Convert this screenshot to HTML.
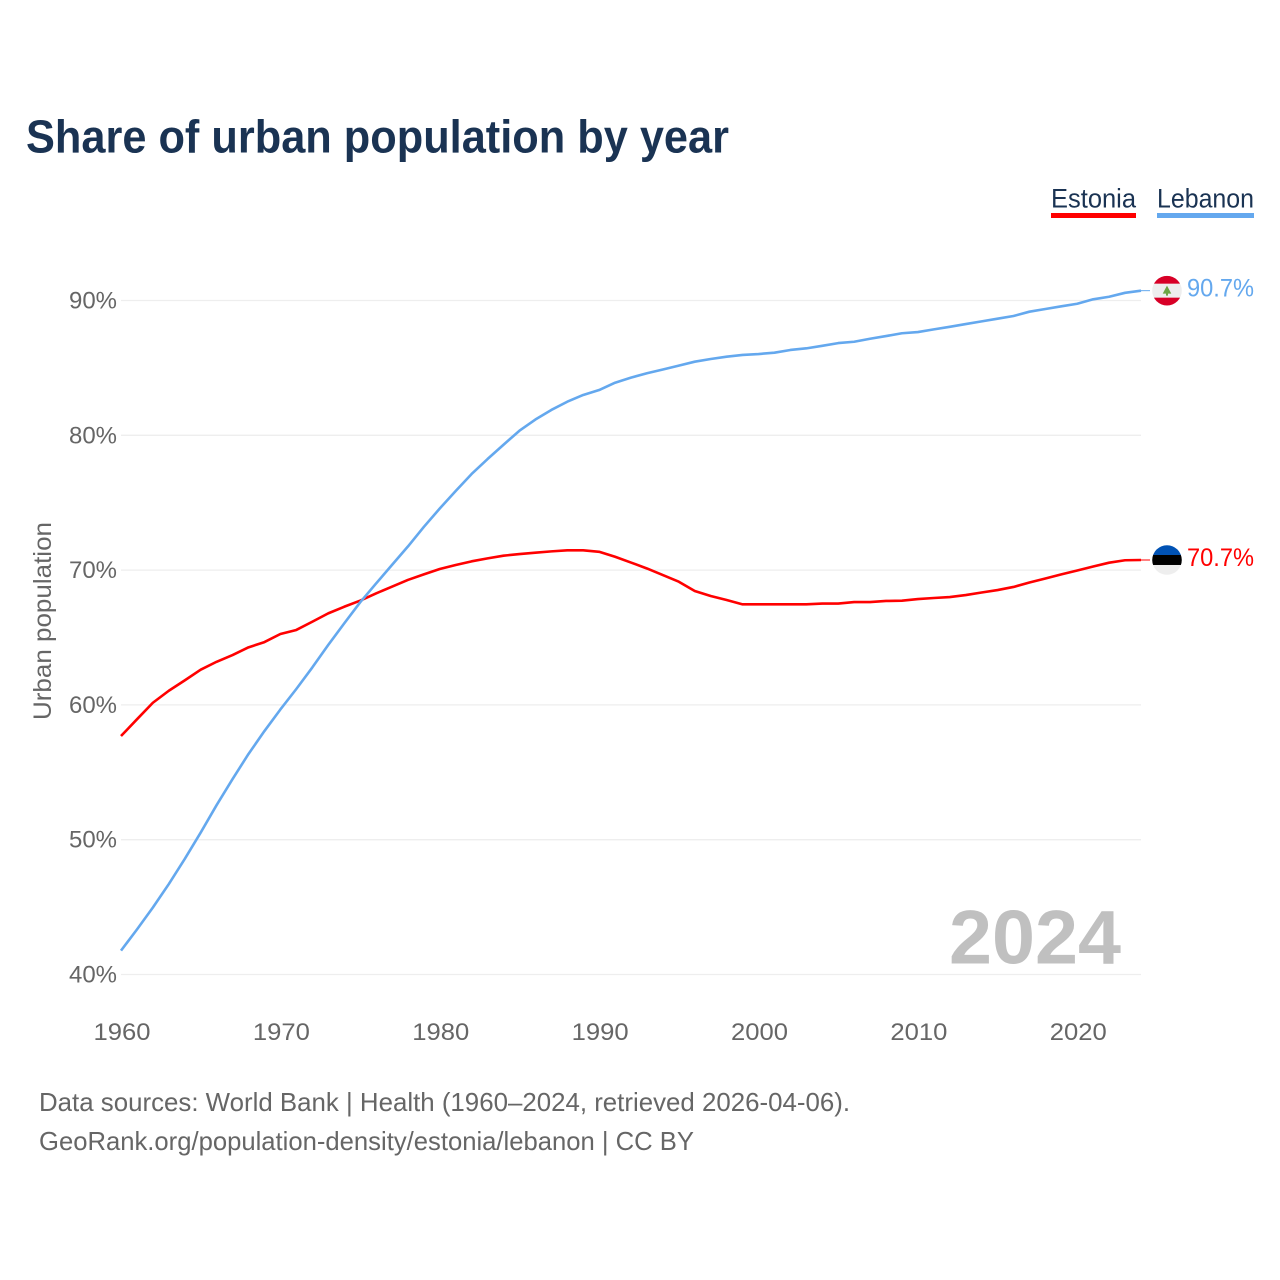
<!DOCTYPE html>
<html lang="en">
<head>
<meta charset="utf-8">
<title>Share of urban population by year</title>
<style>
html,body{margin:0;padding:0;background:#fff;}
svg{display:block;font-family:"Liberation Sans",sans-serif;}
</style>
</head>
<body>
<svg id="chart" xmlns="http://www.w3.org/2000/svg" width="1280" height="1280" viewBox="0 0 1280 1280">
  <defs>
    <clipPath id="flag-clip"><circle cx="0" cy="0" r="14.8"/></clipPath>
  </defs>
  <rect x="0" y="0" width="1280" height="1280" fill="#ffffff"/>
  <text x="26" y="152.5" font-size="46" font-weight="700" fill="#1a3353" textLength="703" lengthAdjust="spacingAndGlyphs">Share of urban population by year</text>

  <text x="1051" y="207.5" font-size="27" fill="#1a3353" textLength="85" lengthAdjust="spacingAndGlyphs">Estonia</text>
  <rect x="1051" y="213" width="85" height="5" fill="#ff0000"/>
  <text x="1157" y="207.5" font-size="27" fill="#1a3353" textLength="97" lengthAdjust="spacingAndGlyphs">Lebanon</text>
  <rect x="1157" y="213" width="97" height="5" fill="#64a8ee"/>

  <g id="grid"></g>
  <g id="y-ticks"></g>
  <g id="x-ticks"></g>
  <text transform="translate(51,621) rotate(-90)" text-anchor="middle" font-size="25" fill="#666666" textLength="198" lengthAdjust="spacingAndGlyphs">Urban population</text>
  <text x="1121" y="963.5" text-anchor="end" font-size="76" font-weight="700" fill="#c0c0c0" textLength="172" lengthAdjust="spacingAndGlyphs">2024</text>

  <g id="series"></g>

  <g id="flag-lebanon">
    <g clip-path="url(#flag-clip)">
      <rect x="-15" y="-15" width="30" height="30" fill="#eeeeee"/>
      <rect x="-15" y="-15" width="30" height="8" fill="#d80027"/>
      <rect x="-15" y="7" width="30" height="8" fill="#d80027"/>
      <path d="M0,-5 L4.3,3 L1,3 L1,5 L-1,5 L-1,3 L-4.3,3 Z" fill="#6da544"/>
    </g>
  </g>
  <g id="flag-estonia">
    <g clip-path="url(#flag-clip)">
      <rect x="-15" y="-15" width="30" height="10" fill="#0052b4"/>
      <rect x="-15" y="-5" width="30" height="10" fill="#000000"/>
      <rect x="-15" y="5" width="30" height="10" fill="#eeeeee"/>
    </g>
  </g>
  <g id="end-labels"></g>

  <text x="39" y="1111" font-size="26" fill="#666666" textLength="811" lengthAdjust="spacingAndGlyphs">Data sources: World Bank | Health (1960–2024, retrieved 2026-04-06).</text>
  <text x="39" y="1150" font-size="26" fill="#666666" textLength="655" lengthAdjust="spacingAndGlyphs">GeoRank.org/population-density/estonia/lebanon | CC BY</text>
</svg>
<script>
var years = [1960,1961,1962,1963,1964,1965,1966,1967,1968,1969,1970,1971,1972,1973,1974,1975,1976,1977,1978,1979,1980,1981,1982,1983,1984,1985,1986,1987,1988,1989,1990,1991,1992,1993,1994,1995,1996,1997,1998,1999,2000,2001,2002,2003,2004,2005,2006,2007,2008,2009,2010,2011,2012,2013,2014,2015,2016,2017,2018,2019,2020,2021,2022,2023,2024];
var estonia = [57.69,58.93,60.16,61.05,61.82,62.61,63.20,63.70,64.27,64.66,65.26,65.56,66.17,66.79,67.28,67.73,68.27,68.77,69.27,69.68,70.08,70.38,70.65,70.87,71.07,71.19,71.29,71.39,71.47,71.47,71.36,70.99,70.56,70.12,69.63,69.14,68.45,68.08,67.78,67.46,67.46,67.46,67.46,67.46,67.52,67.52,67.63,67.63,67.71,67.73,67.85,67.93,68.00,68.15,68.34,68.52,68.75,69.08,69.38,69.68,69.97,70.27,70.55,70.73,70.75];
var lebanon = [41.77,43.34,44.97,46.71,48.57,50.53,52.57,54.50,56.36,58.06,59.66,61.18,62.77,64.44,66.04,67.60,69.00,70.38,71.75,73.20,74.57,75.87,77.13,78.24,79.30,80.34,81.17,81.88,82.49,82.99,83.36,83.90,84.28,84.60,84.88,85.17,85.46,85.66,85.83,85.96,86.03,86.13,86.33,86.45,86.64,86.84,86.94,87.16,87.36,87.57,87.66,87.86,88.05,88.25,88.45,88.65,88.85,89.17,89.37,89.57,89.76,90.09,90.28,90.57,90.73];
var yTicks = [40,50,60,70,80,90];
var xTicks = [1960,1970,1980,1990,2000,2010,2020];
var estoniaEndLabel = "70.7%";
var lebanonEndLabel = "90.7%";

var NS = "http://www.w3.org/2000/svg";
var X0 = 121, X1 = 1141, YEAR0 = 1960, YEAR1 = 2024;
var Y40 = 974.5, Y90 = 300.5, V0 = 40, V1 = 90;
var STUB_END = 1150;
var FLAG_X = 1167;

function xScale(year) {
  return X0 + (year - YEAR0) * (X1 - X0) / (YEAR1 - YEAR0);
}
function yScale(value) {
  return Y40 + (value - V0) * (Y90 - Y40) / (V1 - V0);
}
function makeSvg(tag, attrs) {
  var el = document.createElementNS(NS, tag);
  for (var k in attrs) { el.setAttribute(k, attrs[k]); }
  return el;
}

var gridGroup = document.getElementById("grid");
var yTickGroup = document.getElementById("y-ticks");
yTicks.forEach(function (tick) {
  var line = makeSvg("line", {x1: X0, x2: X1, y1: yScale(tick), y2: yScale(tick), stroke: "#eeeeee", "stroke-width": 1.3});
  
  
  gridGroup.appendChild(line);
  var label = makeSvg("text", {x: 117, y: yScale(tick) + 8, "text-anchor": "end", "font-size": 24.5, fill: "#666666", textLength: 48, lengthAdjust: "spacingAndGlyphs"});
  
  
  label.textContent = tick + "%";
  yTickGroup.appendChild(label);
});

var xTickGroup = document.getElementById("x-ticks");
xTicks.forEach(function (tick) {
  var label = makeSvg("text", {x: xScale(tick) + 1, y: 1040, "text-anchor": "middle", "font-size": 24.5, fill: "#666666", textLength: 57, lengthAdjust: "spacingAndGlyphs"});
  
  
  label.textContent = tick;
  xTickGroup.appendChild(label);
});

function pathFor(values) {
  return values.map(function (v, i) {
    return (i ? "L" : "M") + xScale(years[i]).toFixed(2) + "," + yScale(v).toFixed(2);
  }).join(" ");
}

var seriesGroup = document.getElementById("series");
var estonia_line = makeSvg("path", {d: pathFor(estonia), fill: "none", stroke: "#ff0000", "stroke-width": 2.6, "stroke-linejoin": "round"});


seriesGroup.appendChild(estonia_line);

var lebanon_line = makeSvg("path", {d: pathFor(lebanon), fill: "none", stroke: "#64a8ee", "stroke-width": 2.6, "stroke-linejoin": "round"});


seriesGroup.appendChild(lebanon_line);

var estoniaEndY = yScale(estonia[estonia.length - 1]);
var lebanonEndY = yScale(lebanon[lebanon.length - 1]);

var estonia_stub = makeSvg("line", {x1: X1, x2: STUB_END, y1: estoniaEndY, y2: estoniaEndY, stroke: "#ff0000", "stroke-width": 1});


seriesGroup.appendChild(estonia_stub);

var lebanon_stub = makeSvg("line", {x1: X1, x2: STUB_END, y1: lebanonEndY, y2: lebanonEndY, stroke: "#64a8ee", "stroke-width": 1});


seriesGroup.appendChild(lebanon_stub);

document.getElementById("flag-estonia").setAttribute("transform", "translate(" + FLAG_X + "," + estoniaEndY + ")");
document.getElementById("flag-lebanon").setAttribute("transform", "translate(" + FLAG_X + "," + lebanonEndY + ")");

var endGroup = document.getElementById("end-labels");
var estonia_label = makeSvg("text", {x: 1187, y: estoniaEndY + 6, "font-size": 25, fill: "#ff0000", textLength: 67, lengthAdjust: "spacingAndGlyphs"});


estonia_label.textContent = estoniaEndLabel;
endGroup.appendChild(estonia_label);

var lebanon_label = makeSvg("text", {x: 1187, y: lebanonEndY + 6, "font-size": 25, fill: "#64a8ee", textLength: 67, lengthAdjust: "spacingAndGlyphs"});


lebanon_label.textContent = lebanonEndLabel;
endGroup.appendChild(lebanon_label);
</script>
</body>
</html>
